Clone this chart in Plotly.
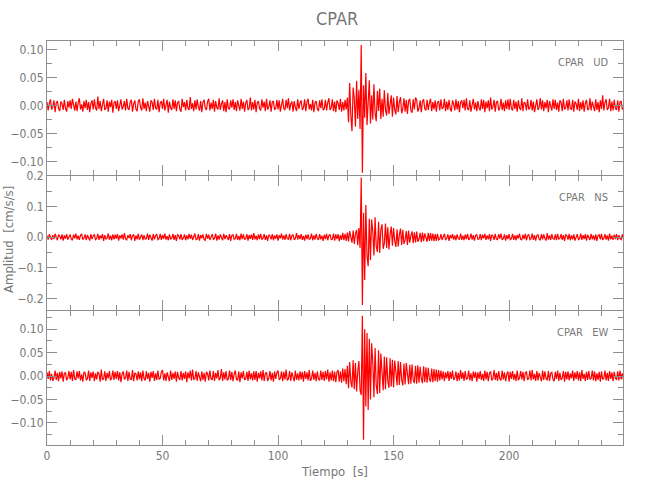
import numpy as np
import plotly.graph_objects as go
from plotly.subplots import make_subplots

# sample times [s], one sample every 0.5 s
time_s = [k * 0.5 for k in range(500)]

# amplitudes in units of 1e-3 cm/s/s (10 s per row)
ud_milli = [
    6,-9,4,11,-7,-3,9,-12,5,8,-6,-10,7,3,-8,10,-5,-11,8,-4,
    9,-6,12,-3,-9,7,-10,5,13,-7,2,-11,8,-5,10,-8,6,-12,4,9,
    -7,11,-4,-9,16,-6,8,-10,3,12,-8,-5,9,-11,7,-3,10,-13,5,8,
    -6,9,-10,4,11,-7,-2,8,-9,12,-5,-8,6,10,-11,3,9,-7,-10,7,
    11,-4,-9,13,-6,5,-10,8,-3,-11,9,6,-8,12,-5,-7,10,-12,4,8,
    -6,12,-9,3,10,-13,7,-4,-8,11,-6,9,-10,5,8,-7,-11,12,-3,6,
    -9,10,-5,-8,15,-6,4,-10,9,-7,11,-3,-9,8,-12,6,10,-5,-8,7,
    12,-9,5,-6,10,-11,8,-4,-7,13,-8,3,9,-10,6,-12,11,-5,-7,9,
    -4,11,-8,6,-10,9,-3,-9,12,-6,7,-11,4,10,-8,-5,14,-9,6,-7,
    10,-12,5,8,-6,-9,11,-4,7,-10,12,-7,-3,9,-11,6,8,-8,-5,10,
    -7,9,-11,4,12,-6,-8,10,-5,13,-9,3,7,-11,8,-4,-10,11,-6,5,
    9,-8,-4,11,-10,6,12,-7,3,-9,10,-12,5,8,-6,-10,9,-5,11,-8,
    -6,10,-9,5,13,-8,-4,11,-10,7,-12,9,4,-8,12,-11,6,-9,10,-7,
    14,-30,40,-18,-46,32,12,-38,44,-24,28,-42,108,-120,36,-22,58,-35,20,45,
    -32,18,-25,38,-14,-28,26,-10,30,-24,12,-20,27,-8,-18,22,-15,9,18,-20,
    14,-8,-16,17,-12,6,15,-14,-6,13,-11,10,-15,8,12,-9,-13,11,-7,14,
    10,-11,-5,9,-12,7,11,-6,-9,10,-8,4,12,-10,6,-7,9,-11,5,8,
    -9,11,-6,-4,12,-10,7,-8,10,-5,-11,9,3,-9,11,-7,8,-12,6,9,
    -5,10,-9,13,-6,-8,9,-11,4,12,-7,5,-10,8,-4,-9,11,-6,10,-12,
    7,-5,9,-10,14,-7,-3,10,-11,6,8,-9,-4,12,-8,5,-10,9,-6,11,
    -8,12,-5,-9,10,-6,7,-11,9,-4,-8,13,-10,6,4,-9,11,-7,-5,10,
    -9,7,-12,5,11,-8,-3,13,-7,9,-10,6,-5,10,-12,8,-4,-9,11,-6,
    10,-8,5,-11,9,6,-10,12,-7,-4,9,-9,11,-5,-8,10,-11,7,3,-8,
    12,-10,6,-7,9,-11,4,10,-8,-6,13,-9,7,-5,-10,11,-8,6,-12,9,
    -6,18,-9,5,11,-8,-4,12,-10,7,-9,10,-5,-8,9,-11,6,8,-7,-4,
]

ns_milli = [
    5,-8,10,-4,-9,7,-6,11,-3,-10,8,4,-7,9,-11,6,-5,10,-8,3,
    9,-6,-10,8,-4,12,-7,5,-9,6,11,-8,-3,9,-10,7,-5,-11,10,-6,
    4,9,-8,-5,11,-9,6,-4,10,-12,7,-6,-3,12,-8,5,-10,9,-7,8,
    -5,10,-11,6,-4,9,-8,13,-6,-9,7,-3,10,-10,5,8,-12,6,-7,11,
    -8,4,9,-10,7,-6,-5,12,-9,8,-4,-11,10,-7,6,9,-8,-5,11,-9,
    7,-5,12,-8,3,-10,9,-6,-4,11,-9,7,-12,8,5,-7,10,-9,-3,9,
    -10,6,-7,11,-5,8,-9,4,12,-8,-6,10,-11,7,-4,9,-8,-10,11,-5,
    8,-9,5,10,-7,-4,12,-11,6,-8,9,-5,-10,11,-6,7,-3,-9,10,-12,
    6,8,-7,-5,11,-9,4,-10,12,-6,9,-8,-4,10,-11,7,-5,8,-9,13,
    -7,5,-10,9,-6,11,-8,-3,10,-9,6,-12,8,4,-7,10,-10,6,-5,9,
    -11,7,-4,12,-8,6,-9,10,-5,-7,11,-10,5,8,-9,-4,13,-8,7,-6,
    10,-9,4,-11,8,-6,9,-7,-5,12,-10,6,-8,11,-4,-9,10,-7,5,-12,
    8,-6,11,-10,5,9,-8,-7,12,-11,9,-6,10,-13,7,-9,14,-10,11,-12,
    15,-14,20,-8,-18,22,-22,12,24,-26,30,-35,195,-222,80,-140,105,-60,-95,60,
    -75,58,20,-60,65,-30,-48,50,-52,25,42,-38,-20,45,-35,32,-40,10,35,-28,
    30,-12,-32,26,-30,8,28,-25,24,-22,-8,20,-25,22,-18,5,19,-20,16,-17,
    18,-15,-6,14,-16,15,-13,12,-4,-15,14,-12,13,-11,12,-13,10,-12,11,-9,
    -6,10,-9,4,11,-8,-5,9,-12,7,-4,10,-8,6,-10,9,-5,-7,12,-9,
    5,-10,8,-6,11,-9,-4,12,-8,7,-11,5,9,-7,-6,10,-10,8,-4,11,
    -9,6,-7,10,-12,8,4,-9,11,-6,-8,10,-5,12,-9,-4,9,-11,7,-6,
    10,-8,-5,11,-9,6,-10,7,-4,12,-7,-9,8,-6,11,-10,5,9,-8,-5,
    12,-9,7,-11,5,8,-6,-10,10,-7,9,-4,-11,13,-8,6,-9,10,-5,-7,
    9,-10,11,-6,-4,10,-9,7,-12,8,5,-8,11,-10,6,-7,9,-11,4,10,
    -8,-5,12,-9,7,-6,10,-11,8,-4,-9,11,-7,6,-10,9,-12,5,8,-7,
    11,-9,-4,10,-8,6,-11,12,-7,5,-9,8,-6,10,-10,7,-5,-8,9,-6,
]

ew_milli = [
    8,-6,11,-9,5,-10,-4,12,-8,7,-11,9,-5,10,-12,6,8,-9,-3,11,
    -7,9,-10,13,-6,-8,10,-5,11,-9,4,-12,9,7,-8,-6,12,-10,8,-4,
    10,-11,6,-7,9,5,-12,14,-8,-6,10,-10,7,-5,11,-9,-4,12,-8,9,
    -6,11,-9,8,-13,5,10,-7,-4,12,-10,9,-6,-8,13,-11,7,5,-9,10,
    -7,8,-11,12,-5,-9,10,-6,7,-12,9,-4,11,-10,6,-8,12,-7,-5,9,
    13,-9,6,-10,8,-5,-11,12,-8,7,-6,10,-12,9,-4,-8,11,-9,7,-6,
    10,-13,8,-5,12,-9,14,-7,-6,11,-10,8,-4,-11,10,-8,7,-12,9,5,
    -9,12,-6,-8,11,-10,7,-5,13,-9,-4,15,-10,8,-7,11,-9,-6,12,-8,
    9,-11,5,12,-7,-9,10,-13,8,-5,11,-8,-6,9,-10,12,-7,6,-9,10,
    -8,11,-12,7,-5,10,-9,13,-11,6,8,-10,-4,11,-9,7,-12,10,-6,8,
    12,-8,-5,10,-11,9,-7,14,-9,-6,11,-10,8,-4,-11,12,-8,6,-9,10,
    -7,9,-12,11,-6,8,-9,13,-10,-5,12,-8,7,-11,10,-6,-9,12,-8,9,
    -10,11,-7,14,-12,8,-9,12,-11,10,-13,9,13,-12,10,-14,16,-11,15,-17,
    22,-26,30,-12,-24,34,-28,28,-33,10,32,-30,-40,129,-136,100,-65,92,-72,80,
    -50,70,30,-45,60,-20,-38,55,-36,48,12,-30,42,-28,40,-10,-25,38,-22,35,
    -24,33,10,-20,32,-19,30,-8,-20,27,-18,28,5,-17,24,-16,25,-8,-15,22,
    -16,23,-14,20,-5,-15,21,-13,19,-14,18,-6,-12,16,-13,15,-11,14,-12,13,
    -9,12,-7,10,-11,8,-5,11,-10,9,-6,12,-8,-4,10,-11,7,-9,13,-6,
    8,-10,11,-7,-5,12,-9,6,-11,10,-4,9,-12,8,-6,11,-8,5,-10,12,
    -7,9,-11,6,10,-9,-5,13,-8,7,-10,11,-6,-9,12,-7,8,-11,4,10,
    -12,9,-6,11,-8,5,-10,12,-9,-4,11,-7,9,-11,6,10,-8,-5,12,-9,
    13,-7,5,-10,11,-9,7,-6,-11,12,-8,10,-5,-9,11,-10,6,8,-7,-11,
    9,-6,12,-10,7,-8,-4,11,-12,9,-7,10,-9,6,-5,12,-10,8,-6,11,
    -9,8,-11,13,-6,5,-10,9,-8,11,-7,-5,12,-9,10,-11,6,-8,9,-12,
    10,-7,-5,12,-9,7,-10,11,-6,8,-11,9,-4,-8,10,-9,12,-7,6,-8,
]

station = "CPAR"
components = ["UD", "NS", "EW"]
y_ranges = [[-0.124, 0.115], [-0.238, 0.2], [-0.147, 0.139]]
y_dticks = [0.05, 0.1, 0.05]
y_minor = [0.025, 0.05, 0.025]
y_formats = [".2f", ".1f", ".2f"]
x_range = [0, 249.3]

series = [ud_milli, ns_milli, ew_milli]

FONT = "Liberation Sans Narrow, DejaVu Sans Condensed, Arial Narrow, sans-serif"
TXT = "#777777"
LINE = "#8f8f8f"
RED = "#ff0000"

fig = make_subplots(rows=3, cols=1, shared_xaxes=True, vertical_spacing=0.0025)

for i, vals in enumerate(series):
    amp = np.array(vals, dtype=float) / 1000.0
    fig.add_trace(go.Scatter(x=time_s, y=amp, mode="lines",
                             line=dict(color=RED, width=1.2),
                             showlegend=False, hoverinfo="skip"),
                  row=i + 1, col=1)
    fig.update_yaxes(range=y_ranges[i], dtick=y_dticks[i], tick0=0,
                     tickformat=y_formats[i],
                     minor=dict(dtick=y_minor[i], tick0=0, ticklen=5,
                                tickcolor=LINE, ticks="inside"),
                     row=i + 1, col=1)
    fig.add_annotation(text=f"{station}   {components[i]}",
                       xref=f"x{'' if i == 0 else i + 1} domain",
                       yref=f"y{'' if i == 0 else i + 1} domain",
                       x=0.977, y=0.843, xanchor="right", yanchor="middle",
                       showarrow=False, font=dict(family=FONT, size=11, color=TXT))

fig.update_xaxes(range=x_range, dtick=50, tick0=0, automargin=False,
                 minor=dict(dtick=10, tick0=0, ticklen=5, tickcolor=LINE, ticks="inside"),
                 ticks="inside", ticklen=10, tickcolor=LINE,
                 showline=True, linecolor=LINE, linewidth=1, mirror="ticks",
                 showgrid=False, zeroline=False,
                 tickfont=dict(family=FONT, size=12, color=TXT))
fig.update_yaxes(ticks="inside", ticklen=10, tickcolor=LINE, automargin=False,
                 showline=True, linecolor=LINE, linewidth=1, mirror="ticks",
                 showgrid=False, zeroline=False,
                 tickfont=dict(family=FONT, size=12, color=TXT))
fig.update_xaxes(title=dict(text="Tiempo  [s]", font=dict(family=FONT, size=13, color=TXT),
                            standoff=4), row=3, col=1)

fig.add_annotation(text="Amplitud  [cm/s/s]", xref="paper", yref="paper",
                   x=-0.066, y=0.51, textangle=-90, showarrow=False,
                   xanchor="center", yanchor="middle",
                   font=dict(family=FONT, size=13, color=TXT))
fig.add_annotation(text=station, xref="paper", yref="paper",
                   x=0.504, y=1.056, showarrow=False,
                   xanchor="center", yanchor="middle",
                   font=dict(family=FONT, size=18, color=TXT))

fig.update_layout(width=650, height=500,
                  margin=dict(l=47, r=27, t=41, b=55),
                  paper_bgcolor="white", plot_bgcolor="white",
                  font=dict(family=FONT, color=TXT))

fig.write_html("out.html", config={"displayModeBar": False},
               post_script="document.body.style.margin='0px';")
